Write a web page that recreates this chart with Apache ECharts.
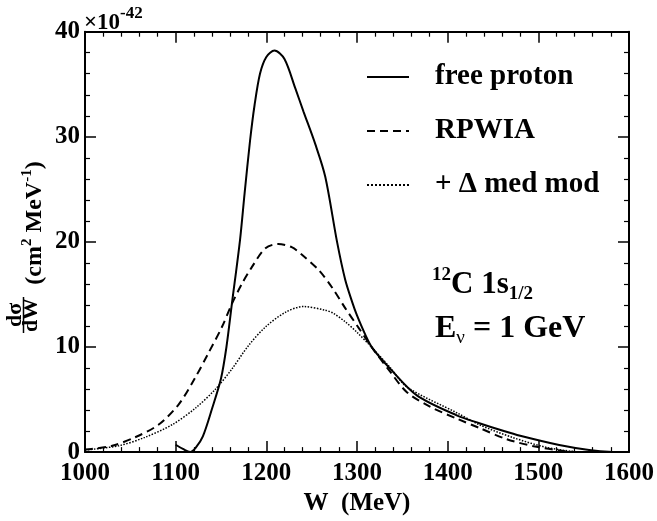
<!DOCTYPE html>
<html>
<head>
<meta charset="utf-8">
<script src="https://cdn.jsdelivr.net/npm/echarts@6/dist/echarts.min.js"></script>
<style>
  html, body { margin: 0; padding: 0; background: #fff; }
  #chart { width: 657px; height: 521px; }
</style>
</head>
<body>
<div id="chart"></div>
<script>
// W (MeV) and d(sigma)/dW (x 10^-42 cm^2 MeV^-1)
var freeW = [1100, 1108, 1116, 1122, 1130, 1140, 1150, 1156, 1162, 1171, 1176, 1182, 1187, 1193, 1200, 1209, 1220, 1232, 1241, 1254, 1265, 1278, 1287, 1295, 1300, 1309, 1317, 1337, 1366, 1410, 1435, 1462, 1480, 1523, 1556, 1582, 1600];
var freeVal = [0.7, 0.3, 0.0, 0.4, 1.5, 4.1, 7.0, 10.0, 14.1, 20.2, 24.6, 29.6, 33.0, 36.0, 37.6, 38.2, 37.4, 34.6, 32.4, 29.3, 26.2, 20.0, 16.4, 14.2, 13.0, 11.2, 9.9, 7.9, 5.4, 3.5, 2.75, 2.0, 1.55, 0.67, 0.2, 0.02, 0.0];

var rpwiaW = [1000, 1007, 1030, 1055, 1081, 1103, 1121, 1136, 1151, 1162, 1173, 1184, 1199, 1213, 1228, 1239, 1258, 1273, 1287, 1302, 1317, 1337, 1355, 1381, 1411, 1435, 1465, 1498, 1530, 1545];
var rpwiaVal = [0.25, 0.3, 0.6, 1.4, 2.6, 4.5, 7.0, 9.4, 11.9, 14.1, 16.0, 17.6, 19.4, 19.8, 19.5, 18.8, 17.3, 15.6, 13.7, 11.8, 9.9, 7.6, 5.7, 4.3, 3.15, 2.3, 1.23, 0.5, 0.08, 0.0];

var medW = [1000, 1037, 1066, 1096, 1122, 1144, 1162, 1180, 1199, 1221, 1241, 1265, 1274, 1287, 1300, 1317, 1337, 1355, 1411, 1435, 1472, 1509, 1542, 1555];
var medVal = [0.2, 0.6, 1.4, 2.6, 4.2, 6.0, 7.9, 10.1, 11.9, 13.3, 13.85, 13.5, 13.2, 12.4, 11.4, 9.9, 8.0, 6.2, 3.7, 2.6, 1.38, 0.45, 0.03, 0.0];

var seriesNames = ["free proton", "RPWIA", "+ \u0394 med mod"];
var xTicks = [1000, 1100, 1200, 1300, 1400, 1500, 1600];
var yTicks = [0, 10, 20, 30, 40];

var FONT = "Liberation Serif";

function pairs(xs, ys) {
  var out = [];
  xs.forEach(function (x, i) {
    out.push([x, ys[i]]);
  });
  return out;
}

// every axis gets its own copy of the frame style
function frameAxis(extra) {
  var base = {
    type: "value",
    z: 5,
    axisLine: { show: true, onZero: false, lineStyle: { color: "#000", width: 2, type: "solid" } },
    axisTick: { show: true, inside: true, length: 11, lineStyle: { color: "#000", width: 1.5, type: "solid" } },
    minorTick: { show: true, splitNumber: 5, length: 5, lineStyle: { color: "#000", width: 1.2, type: "solid" } },
    splitLine: { show: false }
  };
  return Object.assign(base, extra);
}

function labelStyle(margin) {
  return {
    show: true,
    margin: margin,
    fontFamily: FONT,
    fontWeight: "bold",
    fontSize: 25,
    color: "#000",
    formatter: function (v) { return String(v); }
  };
}

var myChart = echarts.init(document.getElementById("chart"));

var option = {
  animation: false,
  grid: { left: 85, top: 31.7, width: 544.5, height: 429.8 },
  xAxis: [
    frameAxis({
      position: "bottom",
      min: xTicks[0],
      max: xTicks[xTicks.length - 1],
      interval: 100,
      axisLabel: labelStyle(9),
      name: "W  (MeV)",
      nameLocation: "middle",
      nameGap: 37,
      nameTextStyle: { fontFamily: FONT, fontWeight: "bold", fontSize: 25, color: "#000" }
    }),
    frameAxis({
      position: "top",
      min: xTicks[0],
      max: xTicks[xTicks.length - 1],
      interval: 100,
      axisLabel: { show: false }
    })
  ],
  yAxis: [
    frameAxis({
      position: "left",
      min: yTicks[0],
      max: yTicks[yTicks.length - 1],
      interval: 10,
      axisLabel: labelStyle(5)
    }),
    frameAxis({
      position: "right",
      min: yTicks[0],
      max: yTicks[yTicks.length - 1],
      interval: 10,
      axisLabel: { show: false }
    })
  ],
  legend: {
    orient: "vertical",
    left: 361,
    top: 57,
    itemWidth: 42,
    itemHeight: 14,
    itemGap: 24,
    selectedMode: false,
    data: seriesNames,
    itemStyle: { opacity: 0 },
    textStyle: {
      fontFamily: FONT,
      fontWeight: "bold",
      fontSize: 29,
      lineHeight: 30,
      color: "#000",
      padding: [0, 0, 0, 21]
    }
  },
  series: [
    {
      name: seriesNames[0],
      type: "line",
      data: pairs(freeW, freeVal),
      smooth: 0.3,
      symbol: "none",
      lineStyle: { color: "#000", width: 2, type: "solid" }
    },
    {
      name: seriesNames[1],
      type: "line",
      data: pairs(rpwiaW, rpwiaVal),
      smooth: 0.3,
      symbol: "none",
      lineStyle: { color: "#000", width: 2, type: [8, 5] }
    },
    {
      name: seriesNames[2],
      type: "line",
      data: pairs(medW, medVal),
      smooth: 0.3,
      symbol: "none",
      lineStyle: { color: "#000", width: 1.5, type: "dotted" }
    }
  ],
  graphic: [
    // x10^-42 scale note
    {
      type: "text",
      left: 84,
      top: 5,
      style: {
        text: "{m|\u00d710}{s|-42}",
        rich: {
          m: { fontFamily: FONT, fontWeight: "bold", fontSize: 23, lineHeight: 30, verticalAlign: "bottom", fill: "#000" },
          s: { fontFamily: FONT, fontWeight: "bold", fontSize: 17, lineHeight: 18, verticalAlign: "top", fill: "#000" }
        }
      }
    },
    // y axis title: fraction
    {
      type: "group",
      x: 23.5,
      y: 315,
      rotation: Math.PI / 2,
      children: [
        {
          type: "text",
          x: 0,
          y: -8,
          style: { text: "d\u03c3", fontFamily: FONT, fontWeight: "bold", fontSize: 22, fill: "#000", align: "center", verticalAlign: "middle" }
        },
        {
          type: "line",
          shape: { x1: -18, y1: 0, x2: 18, y2: 0 },
          style: { stroke: "#000", lineWidth: 1.5 }
        },
        {
          type: "text",
          x: 0,
          y: 8,
          style: { text: "dW", fontFamily: FONT, fontWeight: "bold", fontSize: 22, fill: "#000", align: "center", verticalAlign: "middle" }
        }
      ]
    },
    {
      type: "text",
      x: 35,
      y: 223,
      rotation: Math.PI / 2,
      style: {
        text: "{m|(cm}{s|2}{m| MeV}{s|-1}{m|)}",
        align: "center",
        verticalAlign: "middle",
        rich: {
          m: { fontFamily: FONT, fontWeight: "bold", fontSize: 24, lineHeight: 30, fill: "#000" },
          s: { fontFamily: FONT, fontWeight: "bold", fontSize: 15, lineHeight: 16, verticalAlign: "top", fill: "#000" }
        }
      }
    },
    // annotations
    {
      type: "text",
      left: 432,
      top: 266,
      style: {
        text: "{s|12}{m|C 1s}{d|1/2}",
        rich: {
          m: { fontFamily: FONT, fontWeight: "bold", fontSize: 31, lineHeight: 38, fill: "#000" },
          s: { fontFamily: FONT, fontWeight: "bold", fontSize: 19, lineHeight: 20, verticalAlign: "top", fill: "#000" },
          d: { fontFamily: FONT, fontWeight: "bold", fontSize: 19, lineHeight: 20, verticalAlign: "bottom", fill: "#000" }
        }
      }
    },
    {
      type: "text",
      left: 435,
      top: 313,
      style: {
        text: "{m|E}{d|\u03bd}{m| = 1 GeV}",
        rich: {
          m: { fontFamily: FONT, fontWeight: "bold", fontSize: 32, lineHeight: 38, fill: "#000" },
          d: { fontFamily: FONT, fontWeight: "normal", fontSize: 19, lineHeight: 20, verticalAlign: "bottom", fill: "#000" }
        }
      }
    }
  ]
};

myChart.setOption(option, true);
</script>
</body>
</html>
